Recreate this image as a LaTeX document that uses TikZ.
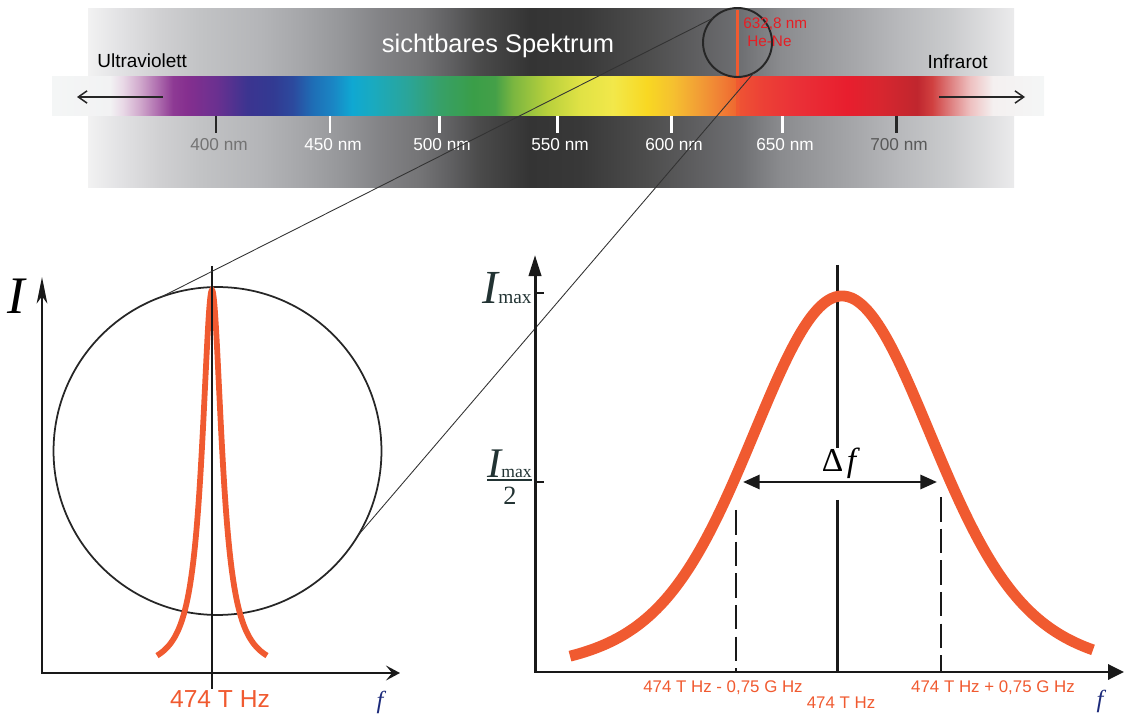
\documentclass[tikz,border=0pt]{standalone}
\usepackage{fontspec}
\setmainfont{Liberation Sans}
\newfontfamily\tnr{Liberation Serif}
\usetikzlibrary{arrows.meta}

% colours
\definecolor{laser}{HTML}{F05A30}
\definecolor{hene}{HTML}{E61E24}
\definecolor{navy}{HTML}{1C2A7A}
\definecolor{slate}{HTML}{223333}

% spectrum colours
\definecolor{s01}{HTML}{F4F6F6}
\definecolor{s02}{HTML}{F2F2F3}
\definecolor{s03}{HTML}{E8D8E6}
\definecolor{s04}{HTML}{D0A8CC}
\definecolor{s05}{HTML}{B070B0}
\definecolor{s06}{HTML}{8E3A94}
\definecolor{s07}{HTML}{852F8F}
\definecolor{s08}{HTML}{6A3090}
\definecolor{s09}{HTML}{3C3490}
\definecolor{s10}{HTML}{323A92}
\definecolor{s11}{HTML}{2C4A9E}
\definecolor{s12}{HTML}{1E6EB6}
\definecolor{s13}{HTML}{1A86C4}
\definecolor{s14}{HTML}{0FA8D2}
\definecolor{s15}{HTML}{1AAABF}
\definecolor{s16}{HTML}{2AA59A}
\definecolor{s17}{HTML}{37A068}
\definecolor{s18}{HTML}{3A9E48}
\definecolor{s19}{HTML}{44A048}
\definecolor{s20}{HTML}{7AB640}
\definecolor{s21}{HTML}{B8D03C}
\definecolor{s22}{HTML}{E0E245}
\definecolor{s23}{HTML}{F2E84A}
\definecolor{s24}{HTML}{F8D822}
\definecolor{s25}{HTML}{F5C030}
\definecolor{s26}{HTML}{F2A035}
\definecolor{s27}{HTML}{F08035}
\definecolor{s28}{HTML}{EF6A30}
\definecolor{s29}{HTML}{EE5234}
\definecolor{s30}{HTML}{EC4036}
\definecolor{s31}{HTML}{EA3037}
\definecolor{s32}{HTML}{E81E2E}
\definecolor{s33}{HTML}{D8262F}
\definecolor{s34}{HTML}{C0262E}
\definecolor{s35}{HTML}{D04040}
\definecolor{s36}{HTML}{E08888}
\definecolor{s37}{HTML}{EEC0C0}
\definecolor{s38}{HTML}{F4F0F0}
\definecolor{s39}{HTML}{F4F6F6}

% grey band colours
\definecolor{g01}{HTML}{F2F2F2}
\definecolor{g02}{HTML}{E2E2E4}
\definecolor{g03}{HTML}{D0D0D2}
\definecolor{g04}{HTML}{C2C3C5}
\definecolor{g05}{HTML}{B4B5B8}
\definecolor{g06}{HTML}{A6A7AA}
\definecolor{g07}{HTML}{96979A}
\definecolor{g08}{HTML}{838386}
\definecolor{g09}{HTML}{747476}
\definecolor{g10}{HTML}{606062}
\definecolor{g11}{HTML}{4A4A4A}
\definecolor{g12}{HTML}{343434}
\definecolor{g13}{HTML}{383838}
\definecolor{g14}{HTML}{4E4E4E}
\definecolor{g15}{HTML}{606062}
\definecolor{g16}{HTML}{6E6F72}
\definecolor{g17}{HTML}{8A8B8E}
\definecolor{g18}{HTML}{A8A9AC}
\definecolor{g19}{HTML}{B8B9BC}
\definecolor{g20}{HTML}{CACBCD}
\definecolor{g21}{HTML}{EBEBEC}

\pgfdeclarehorizontalshading{spectrum}{100bp}{color(0bp)=(s01); color(25bp)=(s01);
  color(27.92bp)=(s02); color(28.58bp)=(s03); color(29.44bp)=(s04); color(30.29bp)=(s05);
  color(31.10bp)=(s06); color(31.80bp)=(s07); color(33.32bp)=(s08); color(34.83bp)=(s09);
  color(36.14bp)=(s10); color(37.15bp)=(s11); color(38.15bp)=(s12); color(39.16bp)=(s13);
  color(40.12bp)=(s14); color(41.18bp)=(s15); color(42.89bp)=(s16); color(44.56bp)=(s17);
  color(46.22bp)=(s18); color(47.33bp)=(s19); color(48.23bp)=(s20); color(49.95bp)=(s21);
  color(51.61bp)=(s22); color(53.27bp)=(s23); color(54.99bp)=(s24); color(56.30bp)=(s25);
  color(57.51bp)=(s26); color(58.67bp)=(s27); color(59.42bp)=(s28); color(59.68bp)=(s29);
  color(60.83bp)=(s30); color(62.55bp)=(s31); color(65.07bp)=(s32); color(66.73bp)=(s33);
  color(68.60bp)=(s34); color(69.35bp)=(s35); color(70.41bp)=(s36); color(71.27bp)=(s37);
  color(72.43bp)=(s38); color(75bp)=(s39); color(100bp)=(s39)}

\pgfdeclarehorizontalshading{greyband}{100bp}{color(0bp)=(g01); color(25bp)=(g01);
  color(26.73bp)=(g02); color(28.89bp)=(g03); color(31.05bp)=(g04); color(34.29bp)=(g05);
  color(36.45bp)=(g06); color(38.61bp)=(g07); color(40.77bp)=(g08); color(42.93bp)=(g09);
  color(44.55bp)=(g10); color(46.17bp)=(g11); color(48.87bp)=(g12); color(51.57bp)=(g13);
  color(55.35bp)=(g14); color(58.05bp)=(g15); color(60.21bp)=(g16); color(62.37bp)=(g17);
  color(66.69bp)=(g18); color(68.85bp)=(g19); color(71.55bp)=(g20); color(75bp)=(g21);
  color(100bp)=(g21)}

\begin{document}
\begin{tikzpicture}[x=0.02cm, y=-0.02cm,
    axisline/.style={draw=black!90, line width=1.7pt},
    dirarrow/.style={draw=black!85, line width=0.85pt, -{Straight Barb[length=5pt,width=7pt]}},
    zoomline/.style={draw=black!80, line width=0.5pt},
    halfline/.style={draw=black!90, line width=0.85pt, dash pattern=on 14pt off 4pt},
    bandlbl/.style={inner sep=0pt, font=\fontsize{10.8}{11}\selectfont},
    ticklbl/.style={inner sep=0pt, anchor=base, font=\fontsize{9.8}{10}\selectfont},
    helbl/.style={inner sep=0pt, anchor=base west, text=hene, font=\fontsize{8.7}{9}\selectfont},
    hzlbl/.style={inner sep=0pt, anchor=base, text=laser, font=\fontsize{9.6}{10}\selectfont},
    flbl/.style={inner sep=0pt, anchor=base, text=navy, font=\tnr\itshape\fontsize{14}{14}\selectfont}]

    \useasboundingbox (0,0) rectangle (1125,715);

    % Grey background and colour band
    \shade[shading=greyband] (88,9) rectangle (1014,188);
    \shade[shading=spectrum] (52,77) rectangle (1044,116);

    % Direction arrows and band labels
    \coordinate (uvS) at (163,97);
    \coordinate (uvE) at (77,97);
    \coordinate (irS) at (939,97);
    \coordinate (irE) at (1025,97);
    \draw[dirarrow] (uvS) -- (uvE);
    \draw[dirarrow] (irS) -- (irE);
    \node[bandlbl, anchor=base west] (uv) at (97,68) {Ultraviolett};
    \node[bandlbl, anchor=base east] (ir) at (988,69) {Infrarot};
    \node[inner sep=0pt, anchor=base, text=white, font=\fontsize{14.5}{15}\selectfont] (title) at (498,53) {sichtbares Spektrum};

    % Wavelength ticks
    \foreach \x/\nm/\tc/\lc in {216/400/black!85/black!55, 330/450/white/white, 439/500/white/white,
        557/550/white/white, 671/600/white/white, 782/650/white/white, 896/700/black!85/black!65} {
        \draw[draw=\tc, line width=1.7pt] (\x,116) -- (\x,133);
        \node[ticklbl, text=\lc] (nm\nm) at (\x+3,151) {\nm\ nm};
    }

    % He-Ne line and magnifier
    \coordinate (heTop) at (737,10);
    \coordinate (heBot) at (737,116);
    \draw[draw=laser, line width=1.7pt] (heTop) -- (heBot);
    \node[circle, draw=black!85, line width=1.1pt, minimum size=1.38cm, inner sep=0pt, outer sep=0pt] (mag) at (737.5,42.5) {};
    \node[helbl] (wl) at (743,29) {632,8 nm};
    \node[helbl] (gas) at (747,47) {He-Ne};

    % Left plot: narrow line
    \coordinate (lO) at (42,673);
    \coordinate (lY) at (42,277);
    \coordinate (lX) at (400,673);
    \draw[axisline, {Stealth[length=15pt,width=6pt,inset=4pt]}-{Stealth[length=8pt,width=8.5pt,inset=3.5pt]}] (lY) -- (lO) -- (lX);
    \node[circle, draw=black!85, line width=1pt, minimum size=6.56cm, inner sep=0pt, outer sep=0pt] (lens) at (217.5,451) {};
    \draw[draw=laser, line width=3.3pt] plot[domain=-55:55, samples=111, smooth] ({212+\x}, {673-383/(1+(\x/12)^2)});
    \coordinate (lcTop) at (212,266);
    \coordinate (lcBot) at (212,689);
    \draw[axisline] (lcTop) -- (lcBot);
    \node[inner sep=0pt, anchor=base west, font=\tnr\itshape\fontsize{30}{30}\selectfont] (lI) at (7,314) {I};
    \node[inner sep=0pt, anchor=base, text=laser, font=\fontsize{14}{14}\selectfont] (lf0) at (220,707) {474 T Hz};
    \node[flbl] (lf) at (380,708) {f};

    % Zoom lines
    \draw[zoomline] (mag.135) -- (lens.110);
    \draw[zoomline] (mag.-62) -- (lens.-31);

    % Right plot: line profile
    \coordinate (rO) at (535,672);
    \coordinate (rY) at (535,255);
    \coordinate (rX) at (1124,672);
    \draw[axisline, {Triangle[length=12pt,width=7pt]}-{Triangle[length=9pt,width=8.5pt]}] (rY) -- (rO) -- (rX);
    \draw[axisline] (535,293) -- (544,293);
    \draw[axisline] (535,482) -- (544,482);
    \coordinate (rcTop) at (837,265);
    \coordinate (rcGapA) at (837,448);
    \coordinate (rcGapB) at (837,500);
    \coordinate (rcBot) at (837,672);
    \draw[axisline] (rcTop) -- (rcGapA) (rcGapB) -- (rcBot);
    \coordinate (hwLt) at (736,510);
    \coordinate (hwLb) at (736,672);
    \coordinate (hwRt) at (941,497);
    \coordinate (hwRb) at (941,672);
    \draw[halfline] (hwLt) -- (hwLb);
    \draw[halfline] (hwRt) -- (hwRb);
    \draw[draw=laser, line width=6.2pt] plot[domain=-272:251, samples=131, smooth]
        ({842+\x}, {672-280*exp(-0.5*(\x/83)^2)-96*exp(-0.5*(\x/140)^2)});
    \coordinate (dfL) at (743,482);
    \coordinate (dfR) at (937,482);
    \draw[line width=1.7pt, draw=black!90, {Triangle[length=9.5pt,width=8pt]}-{Triangle[length=9.5pt,width=8pt]}] (dfL) -- (dfR);
    \node[inner sep=0pt, anchor=base, font=\tnr\fontsize{19}{19}\selectfont] (df) at (841,472) {Δ\hspace{2pt}\textit{f}};

    % Axis labels
    \node[inner sep=0pt, anchor=base east, text=slate] (imax) at (532,304)
        {\tnr\fontsize{27}{27}\selectfont\itshape I\upshape\fontsize{11}{11}\selectfont max};
    \node[inner sep=0pt, anchor=base east, text=slate] (ihalf) at (532,478)
        {\tnr\fontsize{24}{24}\selectfont\itshape I\upshape\fontsize{10}{10}\selectfont max};
    \draw[draw=slate, line width=1.1pt] ([yshift=-0.8pt]ihalf.south west) -- ([yshift=-0.8pt]ihalf.south east);
    \node[inner sep=0pt, anchor=base, text=slate, font=\tnr\fontsize{15}{15}\selectfont] (two) at (510,505) {2};
    \node[hzlbl] (fminus) at (723,692) {474 T Hz - 0,75 G Hz};
    \node[hzlbl] (fzero) at (841,708) {474 T Hz};
    \node[hzlbl] (fplus) at (993,692) {474 T Hz + 0,75 G Hz};
    \node[flbl] (rf) at (1100,707) {f};

\end{tikzpicture}
\end{document}
